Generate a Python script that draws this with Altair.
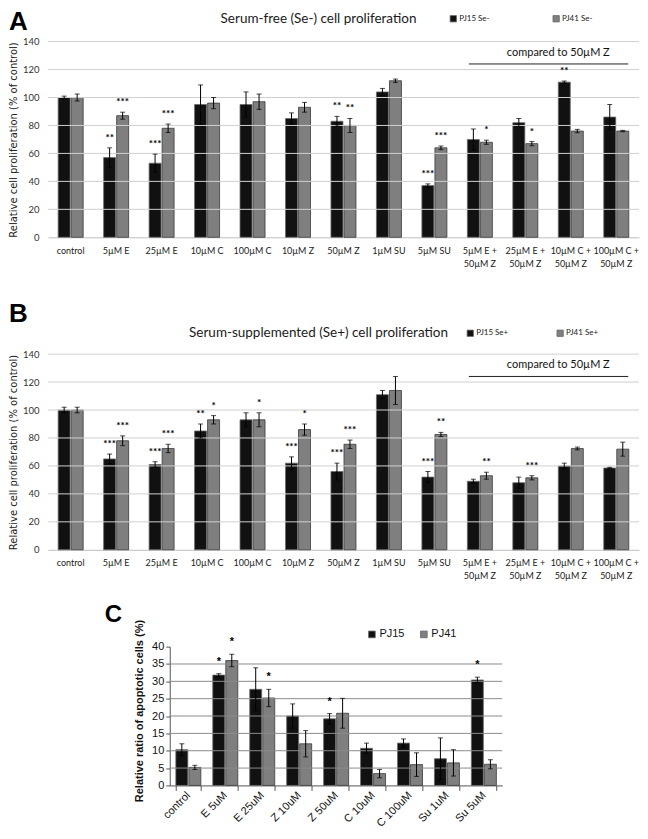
import altair as alt
import pandas as pd

# ---------------- data ----------------
cats_ab = ["control", "5µM E", "25µM E", "10µM C", "100µM C", "10µM Z", "50µM Z",
           "1µM SU", "5µM SU", "5µM E + 50µM Z", "25µM E + 50µM Z",
           "10µM C + 50µM Z", "100µM C + 50µM Z"]
yticks_ab = [0, 20, 40, 60, 80, 100, 120, 140]

a_pj15 = [100, 57, 53, 95, 95, 85, 83, 104, 37, 70, 82, 111, 86]
a_pj15_err = [1, 7, 6.5, 14, 9, 4, 3.5, 2.5, 1.2, 7.5, 3, 0.8, 9]
a_pj15_sig = ["", "**", "***", "", "", "", "**", "", "***", "", "", "**", ""]
a_pj41 = [100, 87, 78, 96, 97, 93, 80, 112, 64, 68, 67, 76, 76]
a_pj41_err = [2.5, 2.5, 3, 4, 5.5, 3.5, 5, 1.2, 1.3, 1.5, 1.5, 1.2, 0.5]
a_pj41_sig = ["", "***", "***", "", "", "", "**", "", "***", "*", "*", "", ""]

b_pj15 = [100, 65, 61, 85, 93, 62, 56, 111, 52, 49, 48, 60, 58.5]
b_pj15_err = [2, 3.5, 2, 5, 5, 4.5, 6, 3, 4, 1.5, 4, 2, 0.5]
b_pj15_sig = ["", "***", "***", "**", "", "***", "***", "", "***", "", "", "", ""]
b_pj41 = [100, 78, 72.5, 93, 93, 86, 75.5, 114, 82.5, 53, 51.5, 72.5, 72]
b_pj41_err = [2, 3.5, 3, 3, 5, 4, 3, 10, 1.5, 2.5, 1.5, 1, 5]
b_pj41_sig = ["", "***", "***", "*", "*", "*", "***", "", "**", "**", "***", "", ""]

cats_c = ["control", "E 5uM", "E 25uM", "Z 10uM", "Z 50uM", "C 10uM", "C 100uM", "Su 1uM", "Su 5uM"]
yticks_c = [0, 5, 10, 15, 20, 25, 30, 35, 40]
c_pj15 = [10.3, 31.8, 27.7, 20, 19.2, 10.7, 12.2, 7.7, 30.4]
c_pj15_err = [1.7, 0.4, 6.2, 3.5, 1.5, 1.5, 1.2, 6, 0.8]
c_pj15_sig = ["", "*", "", "", "*", "", "", "", "*"]
c_pj41 = [5.2, 36, 25.2, 12, 20.8, 3.4, 6, 6.5, 6.1]
c_pj41_err = [0.6, 1.8, 2.5, 3.8, 4.3, 1.2, 3.4, 3.8, 1.3]
c_pj41_sig = ["", "*", "*", "", "", "", "", "", ""]

series_names = ["PJ15", "PJ41"]


def build_df(cats, v1, e1, s1, v2, e2, s2):
    rows = []
    for name, vals, errs, sigs in ((series_names[0], v1, e1, s1), (series_names[1], v2, e2, s2)):
        for c, v, e, s in zip(cats, vals, errs, sigs):
            rows.append(dict(cat=c, series=name, value=v, lo=v - e, hi=v + e, sig=s))
    return pd.DataFrame(rows)


df_a = build_df(cats_ab, a_pj15, a_pj15_err, a_pj15_sig, a_pj41, a_pj41_err, a_pj41_sig)
df_b = build_df(cats_ab, b_pj15, b_pj15_err, b_pj15_sig, b_pj41, b_pj41_err, b_pj41_sig)
df_c = build_df(cats_c, c_pj15, c_pj15_err, c_pj15_sig, c_pj41, c_pj41_err, c_pj41_sig)

# ---------------- styles ----------------
LATO = "Lato"
ARIAL = "Liberation Sans"
DEJAVU = "DejaVu Sans"
FILL = ["#111111", "#7f7f7f"]
EDGE = ["#6a6a6a", "#3a3a3a"]

PW, PH = 592, 196
CW, CH = 333, 139

MULTI = ("indexof(datum.label, '+') > 0 ? "
         "[slice(datum.label, 0, indexof(datum.label, '+') + 1), "
         "slice(datum.label, indexof(datum.label, '+') + 2)] : datum.label")


def color_enc(legend):
    return alt.Color("series:N", scale=alt.Scale(domain=series_names, range=FILL), legend=legend)


def stroke_enc():
    return alt.Stroke("series:N", scale=alt.Scale(domain=series_names, range=EDGE), legend=None)


def text_layer(txt, x, y, **kw):
    return alt.Chart(pd.DataFrame({"t": [txt]})).mark_text(**kw).encode(
        text="t:N", x=alt.value(x), y=alt.value(y))


def panel_ab(df, letter, letter_y, title, title_y, suffix, leg_x, leg_y, leg_pad):
    xs = alt.Scale(domain=cats_ab, paddingInner=0.45, paddingOuter=0.225)
    ys = alt.Scale(domain=[0, 140], nice=False)
    xo = alt.XOffset("series:N", scale=alt.Scale(domain=series_names, paddingInner=0.08))
    base = alt.Chart(df)

    x_axis = alt.Axis(labelAngle=0, labelFont=LATO, labelFontSize=9, labelColor="#1a1a1a",
                      labelPadding=9, labelLineHeight=13, labelExpr=MULTI,
                      domainColor="#bfbfbf", domainWidth=1, ticks=False, title=None)
    y_axis = alt.Axis(values=yticks_ab, tickCount=len(yticks_ab), grid=False,
                      labelOverlap=False, domain=False, ticks=False, labelFont=LATO,
                      labelFontSize=9.5, labelColor="#333333", labelPadding=9,
                      title="Relative cell proliferation (% of control)",
                      titleFont=DEJAVU, titleFontSize=10, titleFontWeight="normal",
                      titleColor="#222222", titleX=-34, titleY=PH / 2, titleAngle=270,
                      titleAlign="center", titleBaseline="middle")
    legend = alt.Legend(orient="none", legendX=leg_x, legendY=leg_y, direction="horizontal",
                        title=None, labelFont=LATO, labelFontSize=8, labelColor="#222222",
                        labelExpr="datum.label + '" + suffix + "'", symbolType="square",
                        symbolSize=40, symbolStrokeColor="#666666", symbolStrokeWidth=0.8,
                        columnPadding=leg_pad, labelOffset=2, padding=0)

    grid = alt.Chart(pd.DataFrame({"g": yticks_ab[1:]})).mark_rule(
        color="#d0d0d0", strokeWidth=1).encode(y=alt.Y("g:Q", scale=ys))
    bars = base.mark_bar(strokeWidth=0.8).encode(
        x=alt.X("cat:N", scale=xs, axis=x_axis, title=None),
        xOffset=xo,
        y=alt.Y("value:Q", scale=ys, axis=y_axis),
        color=color_enc(legend),
        stroke=stroke_enc(),
    )
    X = alt.X("cat:N", scale=xs)
    err = base.mark_rule(color="#000000", strokeWidth=1).encode(
        x=X, xOffset=xo, y=alt.Y("lo:Q", scale=ys), y2="hi:Q")
    cap_hi = base.mark_tick(color="#000000", thickness=1, size=5).encode(
        x=X, xOffset=xo, y=alt.Y("hi:Q", scale=ys))
    cap_lo = base.mark_tick(color="#000000", thickness=1, size=5).encode(
        x=X, xOffset=xo, y=alt.Y("lo:Q", scale=ys))
    stars = base.transform_filter("datum.sig != ''").mark_text(
        font=LATO, fontWeight="bold", fontSize=10, baseline="bottom", dy=-5, color="#000000"
    ).encode(x=X, xOffset=xo, y=alt.Y("hi:Q", scale=ys), text="sig:N")

    bracket = alt.Chart(pd.DataFrame({"a": [cats_ab[9]], "b": [cats_ab[12]], "y": [124]})).mark_rule(
        color="#222222", strokeWidth=1, xOffset=-11, x2Offset=12
    ).encode(x=alt.X("a:N", scale=xs), x2=alt.X2("b"),
             y=alt.Y("y:Q", scale=ys))
    comp = alt.Chart(pd.DataFrame({"c": [cats_ab[11]], "y": [132], "t": ["compared to 50µM Z"]})).mark_text(
        font=LATO, fontSize=11, align="center", baseline="middle", color="#111111"
    ).encode(x=alt.X("c:N", scale=xs, bandPosition=0),
             y=alt.Y("y:Q", scale=ys), text="t:N")

    let = text_layer(letter, -39, letter_y, font=ARIAL, fontWeight="bold", fontSize=26,
                     align="left", baseline="top", color="#000000")
    ttl = text_layer(title, 271, title_y, font=LATO, fontSize=13.5, align="center",
                     baseline="middle", color="#1a1a1a")

    return alt.layer(bars, grid, err, cap_hi, cap_lo, stars, bracket, comp, let, ttl).properties(
        width=PW, height=PH)


def panel_c(df):
    xs = alt.Scale(domain=cats_c, paddingInner=0.33, paddingOuter=0.165)
    ys = alt.Scale(domain=[0, 40], nice=False)
    xo = alt.XOffset("series:N", scale=alt.Scale(domain=series_names, paddingInner=0.08))
    base = alt.Chart(df)
    x_axis = alt.Axis(labelAngle=315, labelAlign="right", labelBaseline="middle",
                      labelFont=ARIAL, labelFontSize=11, labelColor="#111111", labelPadding=3,
                      tickBand="extent", ticks=True, tickSize=5, tickColor="#555555",
                      domainColor="#555555", title=None)
    y_axis = alt.Axis(values=yticks_c, tickCount=len(yticks_c), grid=False,
                      labelOverlap=False, domain=True, domainColor="#555555", ticks=True,
                      tickSize=4, tickColor="#555555", labelFont=ARIAL, labelFontSize=11,
                      labelColor="#111111", labelPadding=2,
                      title="Relative ratio of apoptotic cells (%)", titleFont=ARIAL,
                      titleFontSize=11, titleFontWeight="bold", titleColor="#111111",
                      titleX=-30, titleY=64, titleAngle=270, titleAlign="center",
                      titleBaseline="middle")
    legend = alt.Legend(orient="none", legendX=197, legendY=-18, direction="horizontal",
                        title=None, labelFont=ARIAL, labelFontSize=11, labelColor="#111111",
                        symbolType="square", symbolSize=45, symbolStrokeColor="#666666",
                        symbolStrokeWidth=0.8, columnPadding=13, labelOffset=2, padding=0)
    bars = base.mark_bar(strokeWidth=0.8).encode(
        x=alt.X("cat:N", scale=xs, axis=x_axis, title=None),
        xOffset=xo,
        y=alt.Y("value:Q", scale=ys, axis=y_axis),
        color=color_enc(legend),
        stroke=stroke_enc(),
    )
    grid = alt.Chart(pd.DataFrame({"g": yticks_c[1:-1]})).mark_rule(
        color="#8c8c8c", strokeWidth=1).encode(y=alt.Y("g:Q", scale=ys))
    X = alt.X("cat:N", scale=xs)
    err = base.mark_rule(color="#000000", strokeWidth=1).encode(
        x=X, xOffset=xo, y=alt.Y("lo:Q", scale=ys), y2="hi:Q")
    cap_hi = base.mark_tick(color="#000000", thickness=1, size=5).encode(
        x=X, xOffset=xo, y=alt.Y("hi:Q", scale=ys))
    cap_lo = base.mark_tick(color="#000000", thickness=1, size=5).encode(
        x=X, xOffset=xo, y=alt.Y("lo:Q", scale=ys))
    stars = base.transform_filter("datum.sig != ''").mark_text(
        font=ARIAL, fontWeight="bold", fontSize=11, baseline="bottom", dy=-7, color="#000000"
    ).encode(x=X, xOffset=xo, y=alt.Y("hi:Q", scale=ys), text="sig:N")
    let = text_layer("C", -65, -44, font=ARIAL, fontWeight="bold", fontSize=24,
                     align="left", baseline="top", color="#000000")
    return alt.layer(bars, grid, err, cap_hi, cap_lo, stars, let).properties(width=CW, height=CH)


pa = panel_ab(df_a, "A", -33, "Serum-free (Se-) cell proliferation", -23, " Se-", 402, -27, 61)
pb = panel_ab(df_b, "B", -53, "Serum-supplemented (Se+) cell proliferation", -21, " Se+", 419, -25, 46)
pc = panel_c(df_c)

spacer = alt.Chart(pd.DataFrame({"a": [0]})).mark_point(opacity=0).encode(
    x=alt.value(0), y=alt.value(0)).properties(width=57, height=1)

top = alt.vconcat(pa, pb, spacing=33).resolve_legend(color="independent")
bottom = alt.hconcat(spacer, pc, spacing=0).resolve_legend(color="independent")

chart = alt.vconcat(top, bottom, spacing=22).resolve_legend(color="independent").properties(
    padding={"left": 0, "top": 0, "right": 0, "bottom": 0}, background="white"
).configure_view(stroke=None)

chart.save("out.html", embed_options={"renderer": "svg", "actions": False})
